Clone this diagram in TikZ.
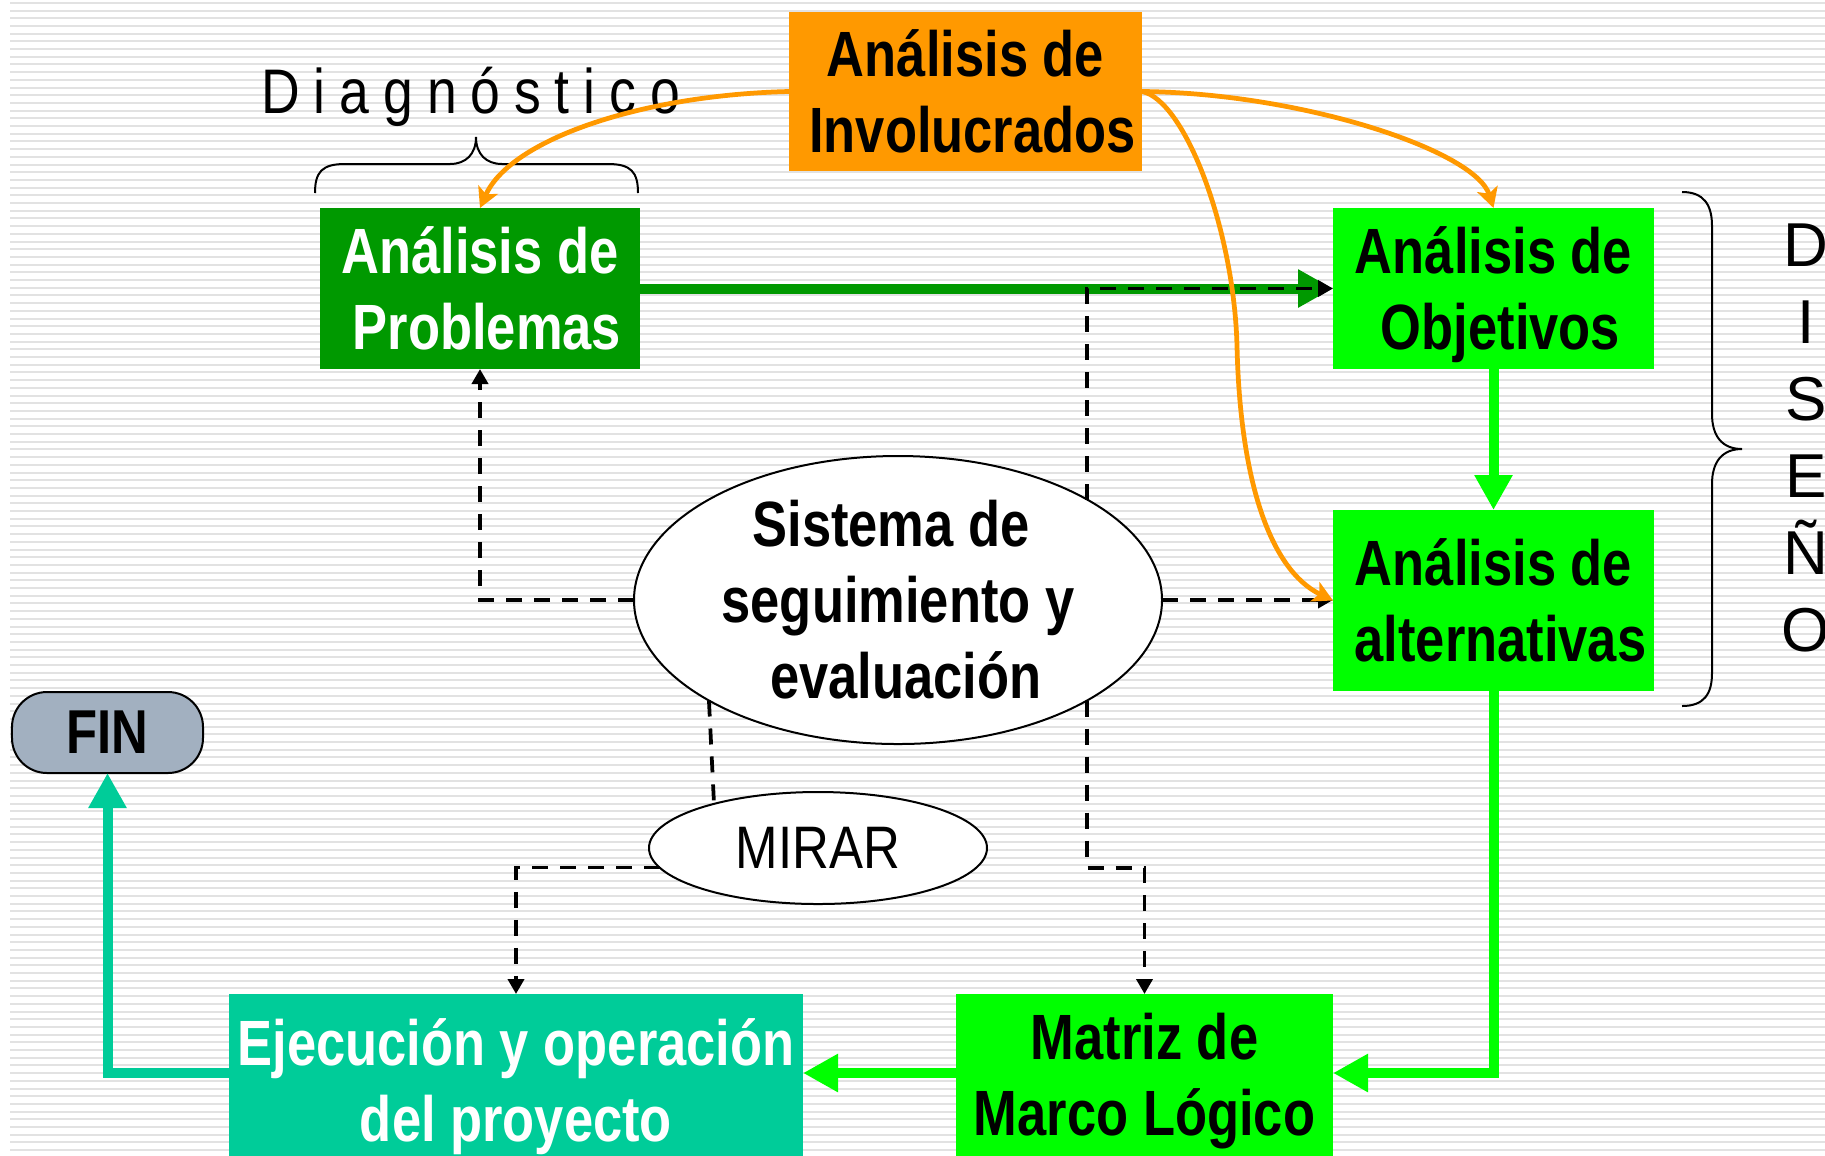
\documentclass[tikz,border=0pt]{standalone}
\usepackage{fontspec}
\setmainfont{Liberation Sans}
\newfontfamily\nb[FakeStretch=0.82]{Liberation Sans Bold}
\newfontfamily\nr[FakeStretch=0.85]{Liberation Sans}
\newfontfamily\diagfont[FakeStretch=0.85,LetterSpace=22]{Liberation Sans}
\usetikzlibrary{arrows.meta,shapes.geometric,calc}
\definecolor{orng}{HTML}{FF9900}
\definecolor{dgreen}{HTML}{009900}
\definecolor{lgreen}{HTML}{00FF00}
\definecolor{tealc}{HTML}{00CC99}
\definecolor{finfill}{HTML}{A2B0C0}
\definecolor{stripec}{HTML}{E2E2E2}
\begin{document}
\begin{tikzpicture}[x=0.4pt,y=-0.4pt,
  box/.style={rectangle, inner sep=0pt, outer sep=0pt, align=center,
    font=\nb\fontsize{25.6pt}{30.4pt}\selectfont},
  ell/.style={ellipse, draw=black, line width=0.8pt, fill=white, inner sep=0pt, outer sep=0pt, align=center},
  gline/.style={line width=4pt, -{Triangle[width=14.4pt,length=14pt]}},
  dline/.style={black, line width=1.5pt, dash pattern=on 6.4pt off 4.8pt},
  dtip/.style={-{Triangle[width=6.4pt,length=6pt]}},
  oline/.style={orng, line width=1.9pt, -{Stealth[width=8.5pt,length=8pt,inset=2pt]}},
  bracec/.style={black, line width=0.8pt}
]
\useasboundingbox (0,0) rectangle (1825,1155);
\fill[white] (0,0) rectangle (1825,1155);
\foreach \i in {0,...,150} \fill[stripec] (10,{1.8+\i*7.7}) rectangle (1825,{3.8+\i*7.7});

% nodes
\node[box, fill=orng, minimum width=141.2pt, minimum height=63.6pt] (inv) at (965.5,91.5) {Análisis de\\\hspace*{5.6pt}Involucrados};
\node[box, fill=dgreen, text=white, minimum width=128pt, minimum height=64.4pt] (prob) at (480,288.5) {Análisis de\\\hspace*{5.6pt}Problemas};
\node[box, fill=lgreen, minimum width=128.4pt, minimum height=64.4pt, text depth=0pt] (obj) at (1493.5,288.5) {Análisis de\\\hspace*{5.6pt}Objetivos};
\node[box, fill=lgreen, minimum width=128.4pt, minimum height=72.4pt] (alt) at (1493.5,600.5) {Análisis de\\\hspace*{5.6pt}alternativas};
\node[ell, minimum width=211.2pt, minimum height=115.2pt, font=\nb\fontsize{25.6pt}{30.4pt}\selectfont] (sis) at (898,600) {Sistema de\hspace*{5.6pt}\\seguimiento y\\\hspace*{6.4pt}evaluación};
\node[ell, minimum width=135.2pt, minimum height=44.8pt, font=\nr\fontsize{24pt}{28pt}\selectfont] (mir) at (818,848) {MIRAR};
\node[box, draw=black, line width=0.8pt, fill=finfill, rounded corners=14pt, minimum width=76.4pt, minimum height=32.4pt, font=\nb\fontsize{24.8pt}{28pt}\selectfont] (fin) at (107.5,732.5) {FIN};
\node[box, fill=tealc, text=white, minimum width=229.6pt, minimum height=74.4pt] (eje) at (516,1087) {Ejecución y operación\\del proyecto};
\node[box, fill=lgreen, minimum width=150.8pt, minimum height=69.6pt] (mat) at (1144.5,1081) {Matriz de\\Marco Lógico};

\node[inner sep=0pt, anchor=base west, font=\diagfont\fontsize{25.2pt}{30pt}\selectfont] (diag) at (261,113) {Diagnóstico};
\node[inner sep=0pt, align=center, font=\fontsize{24.8pt}{30.8pt}\selectfont] (dis) at (1806,437.5) {D\\I\\S\\E\\Ñ\\O};

% braces
\draw[bracec] (315,193) .. controls (315,172) and (322,164) .. (345,164) -- (450,164) .. controls (466,164) and (476,154) .. (476,137) .. controls (476,154) and (486,164) .. (502,164) -- (608,164) .. controls (631,164) and (638,172) .. (638,193);
\draw[bracec] (1682,192) .. controls (1704,192) and (1712,205) .. (1712,226) -- (1712,414) .. controls (1712,436) and (1722,449) .. (1742,449) .. controls (1722,449) and (1712,462) .. (1712,484) -- (1712,673) .. controls (1712,694) and (1704,706) .. (1682,706);

% coordinates
\coordinate (ly) at (0,1073);
\coordinate (kr) at (1144.5,868);

% thick connectors
\draw[gline, dgreen] (prob.east) -- (obj.west);
\draw[gline, lgreen] (obj.south) -- (alt.north);
\draw[gline, lgreen] (alt.south) |- (mat.east |- ly);
\draw[gline, lgreen] (mat.west |- ly) -- (eje.east |- ly);
\draw[gline, tealc] (eje.west |- ly) -| (fin.south);

% dashed connectors
\draw[dline, dtip] (sis.west) -| (prob.south);
\draw[dline, dtip] (sis.east) -- (sis.east -| alt.west);
\draw[dline, dtip] (sis.28.2) |- (obj.west);
\draw[dline] (sis.208.7) -- (mir.157.6);
\draw[dline, dtip] (mir.187.2) -| (eje.north);
\draw[dline, dtip] (sis.-28.2) |- (kr) -- (mat.north);

% orange connectors
\draw[oline] (inv.west) .. controls (640,95) and (510,140) .. (prob.north);
\draw[oline] (inv.east) .. controls (1300,93) and (1475,150) .. (obj.north);
\draw[oline] (inv.east) .. controls (1185,100) and (1234,230) .. (1237,346) .. controls (1240,480) and (1270,570) .. (alt.west);
\end{tikzpicture}
\end{document}
